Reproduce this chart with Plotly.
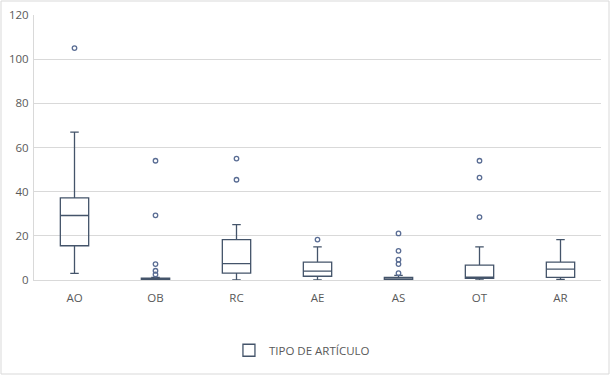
import plotly.graph_objects as go

categories = ["AO", "OB", "RC", "AE", "AS", "OT", "AR"]
lower_fence = [3, 0, 0, 0, 0, 0, 0.3]
q1_vals = [15.5, 0, 3.1, 1.7, 0, 0.8, 1.2]
median_vals = [29.2, 0.3, 7.4, 4.0, 0.2, 0.8, 4.9]
q3_vals = [37.2, 0.8, 18.3, 8.1, 1.2, 6.7, 8.1]
upper_fence = [67, 1.2, 25.1, 15, 2.1, 15, 18.3]
outliers = {
    "AO": [105],
    "OB": [54, 29.3, 7.2, 4.2, 2.5],
    "RC": [55, 45.4],
    "AE": [18.3],
    "AS": [21.1, 13.2, 9.2, 7.2, 3.1],
    "OT": [54, 46.4, 28.5],
    "AR": [],
}
y_ticks = [0, 20, 40, 60, 80, 100, 120]

LINE = "#44546A"
GRID = "#D9D9D9"
TEXT = "#595959"
FONT = "Open Sans"

fig = go.Figure()
fig.add_trace(go.Box(
    x=categories,
    q1=q1_vals, median=median_vals, q3=q3_vals,
    lowerfence=lower_fence, upperfence=upper_fence,
    name="TIPO DE ARTÍCULO",
    line=dict(color=LINE, width=1.3),
    fillcolor="rgba(255,255,255,0)",
    whiskerwidth=0.3,
    boxpoints=False,
    showlegend=True,
))

ox, oy = [], []
for c in categories:
    for v in outliers[c]:
        ox.append(c)
        oy.append(v)
fig.add_trace(go.Scatter(
    x=ox, y=oy, mode="markers",
    marker=dict(symbol="circle-open", size=4.5, color="#5A6D94", line=dict(width=1.3)),
    showlegend=False, hoverinfo="y",
))

W, H = 610, 375
L, R, T, B = 34, 9, 15, 95
pw, ph = W - L - R, H - T - B

fig.update_layout(
    width=W, height=H,
    margin=dict(l=L, r=R, t=T, b=B, autoexpand=False),
    paper_bgcolor="white", plot_bgcolor="white",
    font=dict(family=FONT, size=11.5, color=TEXT),
    boxgap=0.5,
    legend=dict(orientation="h", xref="container", x=0.495, xanchor="center",
                yref="container", y=0.066, yanchor="middle",
                font=dict(family=FONT, size=11.5, color=TEXT)),
    xaxis=dict(type="category", categoryorder="array", categoryarray=categories,
               showline=True, linecolor=GRID, linewidth=1, showgrid=False,
               ticks="", ticklabelstandoff=7, automargin=False,
               tickfont=dict(size=11.5, color=TEXT)),
    yaxis=dict(range=[0, 120], tickvals=y_ticks, showgrid=True, gridcolor=GRID,
               gridwidth=1, zeroline=False, showline=True, linecolor=GRID,
               ticks="", automargin=False, ticklabelstandoff=2,
               tickfont=dict(size=11.5, color=TEXT)),
    shapes=[dict(type="rect", xref="paper", yref="paper",
                 x0=(1 - L) / pw, x1=(W - 1 - L) / pw,
                 y0=-(B - 1) / ph, y1=(ph + T - 1) / ph,
                 line=dict(color=GRID, width=1), fillcolor="rgba(0,0,0,0)", layer="below")],
)

fig.write_html("out.html", config={"displayModeBar": False},
               post_script="document.body.style.margin='0';")
